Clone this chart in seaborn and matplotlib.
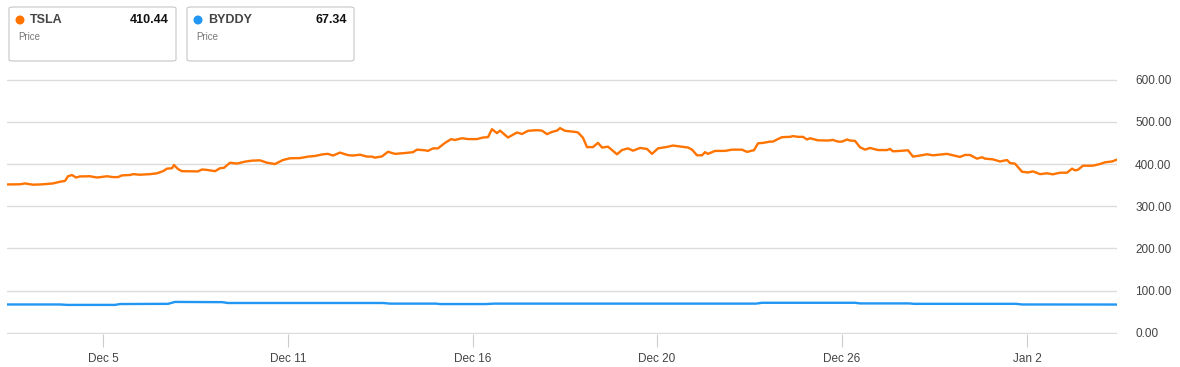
import matplotlib
matplotlib.use("Agg")
import matplotlib.pyplot as plt
from matplotlib.patches import FancyBboxPatch, Circle
import seaborn as sns
import pandas as pd

# ---- data (x = session position along the trading-time axis) ----
tsla_t = [0, 13, 18, 26, 36, 46, 53, 58, 61, 65, 69, 73, 83, 90, 100, 106, 111, 115, 123, 126,
          133, 143, 150, 156, 160, 165, 167, 171, 175, 186, 191, 195, 200, 208, 213, 217, 223,
          230, 238, 245, 253, 260, 268, 276, 283, 293, 301, 308, 316, 321, 326, 333, 341, 346,
          353, 360, 365, 368, 375, 381, 388, 398, 406, 410, 418, 421, 426, 431, 438, 444,
          448, 455, 461, 470, 476, 481, 485, 490, 493, 501, 510, 515, 521, 530, 535, 540, 545,
          550, 553, 558, 568, 571, 576, 580, 586, 591, 595, 601, 610, 615, 621, 626, 633, 640,
          645, 651, 660, 666, 675, 681, 685, 690, 695, 698, 701, 708, 718, 725, 735, 740, 745,
          747, 751, 756, 763, 766, 770, 775, 783, 786, 791, 796, 800, 803, 811, 821, 826, 831,
          835, 840, 843, 848, 853, 858, 863, 871, 880, 883, 886, 893, 901, 906, 913, 920, 926,
          940, 946, 953, 958, 963, 970, 975, 978, 986, 993, 1000, 1003, 1008, 1015, 1021, 1026,
          1033, 1040, 1046, 1053, 1060, 1065, 1068, 1071, 1076, 1086, 1093, 1098, 1105, 1110]
tsla_v = [351.6, 352, 354, 351, 352, 354, 358, 360, 371, 374, 368, 370.6, 371, 368, 371, 369, 369,
          373, 374, 376, 374.6, 376, 378, 383, 389, 390, 397.6, 388, 383, 382.5, 382.5, 387, 386,
          383, 390, 391, 403,
          401, 405.6, 408, 408.7, 403, 400, 409.5, 413.5, 414, 417.5, 419, 423, 424, 420, 427,
          421, 420, 422, 417.5, 417.5, 415, 418, 429, 424, 426, 428, 434, 432.5, 431, 437, 437,
          450, 458.7,
          457, 461, 459, 459, 462.7, 463.5, 482.5, 473, 479, 462.7, 474.6, 471, 478.6, 480, 479,
          470.6, 476, 479, 485, 478.6, 476, 474.6, 462, 440, 440, 450, 439, 441, 423, 433, 437,
          431.5, 438, 435.7, 424, 437, 440.5, 443.7,
          441, 439, 434, 420.6, 420.6, 428, 424, 431, 431, 434, 434, 428.6, 431.7, 432.5, 449,
          450, 453, 453, 458, 463.5, 464.3, 466, 464.3, 464.3, 458, 461, 456, 455.6, 457, 453,
          453, 458, 455.6, 454.8, 439.7, 434, 438, 433, 433, 435.7, 430,
          431, 432.5, 417.5, 420, 423, 420.6, 424, 420.6, 416.7, 421.4, 421.4, 412.7, 416, 412.7,
          411, 406, 409.5, 402.4, 400.8, 381.7, 380, 382.5, 376, 378, 375.6, 379.4, 379.4, 389,
          385, 386.5, 396, 396, 400, 404, 406, 410.44]

byddy_t = [0, 53, 60, 108, 113, 161, 168, 215, 221, 376, 383, 429, 433, 479, 487, 593, 604,
           749, 755, 848, 853, 902, 907, 1009, 1015, 1110]
byddy_v = [67.5, 67.5, 66.5, 66.5, 68.5, 69, 73.5, 73, 71, 71, 69.5, 69.5, 68.5, 68.5, 69.5,
           69.5, 69.5, 69.5, 71.5, 71.5, 70, 70, 69, 69, 67.5, 67.34]

tick_pos = [96, 281, 466, 650, 835, 1020]
tick_labels = ["Dec 5", "Dec 11", "Dec 16", "Dec 20", "Dec 26", "Jan 2"]
y_ticks = [0, 100, 200, 300, 400, 500, 600]

series_names = ["TSLA", "BYDDY"]
last_values = ["410.44", "67.34"]
colors = ["#ff7300", "#2196f3"]

# ---- figure ----
sns.set_theme(style="white")
plt.rcParams["font.family"] = ["Liberation Sans", "DejaVu Sans"]

W, H = 1180, 367
fig = plt.figure(figsize=(W / 100, H / 100), dpi=100)
ax = fig.add_axes([7 / W, 1 - 334 / H, (1117 - 7) / W, (334 - 78.5) / H])

df_t = pd.DataFrame({"t": tsla_t, "price": tsla_v})
df_b = pd.DataFrame({"t": byddy_t, "price": byddy_v})
sns.lineplot(data=df_t, x="t", y="price", ax=ax, color=colors[0], linewidth=1.7)
sns.lineplot(data=df_b, x="t", y="price", ax=ax, color=colors[1], linewidth=1.7)

ax.set_xlim(0, 1110)
ax.set_ylim(-2.4, 602.4)
ax.set_yticks(y_ticks)
ax.set_yticklabels([f"{v:.2f}" for v in y_ticks])
ax.yaxis.tick_right()
ax.grid(axis="y", color="#dcdcdc", linewidth=1)
ax.grid(axis="x", visible=False)
ax.set_axisbelow(True)
for s in ax.spines.values():
    s.set_visible(False)
ax.set_xticks(tick_pos)
ax.set_xticklabels(tick_labels)
ax.tick_params(axis="x", length=9, width=0.8, color="#cccccc", labelcolor="#444444",
               labelsize=8.5, pad=5, bottom=True)
ax.tick_params(axis="y", length=0, labelcolor="#444444", labelsize=8.5, pad=13, right=False)
ax.set_xlabel("")
ax.set_ylabel("")


def fp(x, y):
    return (x / W, 1 - y / H)


# ---- legend cards ----
for i, (name, val, col) in enumerate(zip(series_names, last_values, colors)):
    x0 = 9 + i * 178
    bx, by = fp(x0, 61)
    box = FancyBboxPatch((bx, by), 167 / W, 54 / H, boxstyle="round,pad=0,rounding_size=0.004",
                         transform=fig.transFigure, facecolor="white", edgecolor="#cccccc",
                         linewidth=0.9)
    fig.patches.append(box)
    dot = Circle((x0 + 11, H - 20), 4.5, transform=None, facecolor=col, edgecolor="none")
    fig.patches.append(dot)
    tx, ty = fp(x0 + 21, 20)
    fig.text(tx, ty, name, fontsize=9, fontweight="bold", color="#444444", va="center", ha="left")
    vx, vy = fp(x0 + 160, 20)
    fig.text(vx, vy, val, fontsize=9, fontweight="bold", color="#111111", va="center", ha="right")
    px_, py_ = fp(x0 + 9, 37)
    fig.text(px_, py_, "Price", fontsize=7, color="#777777", va="center", ha="left")

fig.savefig("out.png", dpi=100)
